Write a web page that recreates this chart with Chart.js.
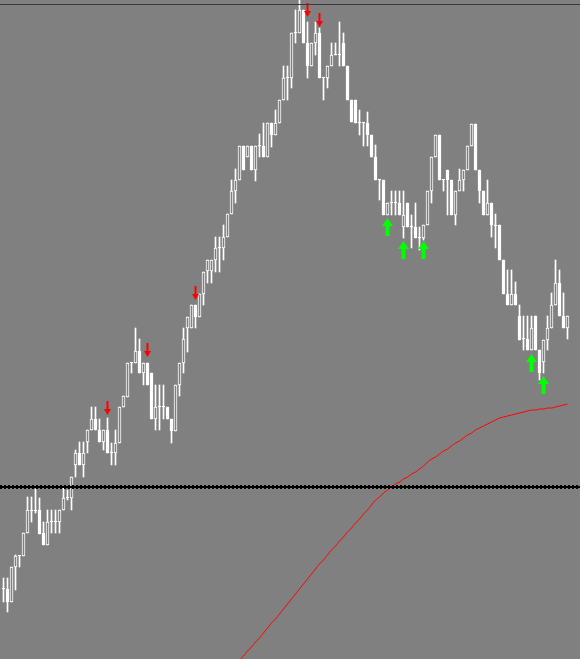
<!DOCTYPE html>
<html>
<head>
<meta charset="utf-8">
<script src="https://cdn.jsdelivr.net/npm/chart.js@4.4.1/dist/chart.umd.min.js"></script>
<style>
    html, body { margin: 0; padding: 0; background: #808080; overflow: hidden; }
    #wrap { width: 580px; height: 659px; }
</style>
</head>
<body>
<div id="wrap"><canvas id="myChart"></canvas></div>
<script>
var opens = [1.3031,1.3031,1.3018,1.3053,1.3064,1.3064,1.3087,1.3109,1.3109,1.3110,
    1.3087,1.3075,1.3098,1.3098,1.3098,1.3110,1.3122,1.3122,1.3155,1.3167,
    1.3155,1.3178,1.3190,1.3201,1.3190,1.3178,1.3190,1.3167,1.3167,1.3177,
    1.3213,1.3223,1.3257,1.3257,1.3269,1.3247,1.3257,1.3247,1.3201,1.3213,
    1.3213,1.3213,1.3201,1.3189,1.3235,1.3257,1.3292,1.3292,1.3315,1.3303,
    1.3326,1.3349,1.3349,1.3360,1.3372,1.3372,1.3383,1.3406,1.3429,1.3440,
    1.3474,1.3463,1.3474,1.3450,1.3474,1.3474,1.3463,1.3497,1.3485,1.3497,
    1.3520,1.3542,1.3542,1.3587,1.3587,1.3610,1.3577,1.3554,1.3577,1.3587,
    1.3542,1.3542,1.3554,1.3565,1.3565,1.3577,1.3554,1.3520,1.3520,1.3497,
    1.3497,1.3497,1.3485,1.3463,1.3440,1.3440,1.3405,1.3417,1.3417,1.3417,
    1.3393,1.3417,1.3393,1.3393,1.3382,1.3382,1.3395,1.3429,1.3463,1.3485,
    1.3440,1.3450,1.3440,1.3405,1.3429,1.3440,1.3450,1.3474,1.3496,1.3450,
    1.3429,1.3405,1.3417,1.3394,1.3395,1.3360,1.3326,1.3315,1.3326,1.3304,
    1.3281,1.3281,1.3270,1.3304,1.3270,1.3258,1.3280,1.3292,1.3315,1.3337,
    1.3304,1.3292];
var closes = [1.3031,1.3018,1.3053,1.3064,1.3064,1.3087,1.3110,1.3109,1.3109,1.3086,
    1.3075,1.3098,1.3098,1.3098,1.3110,1.3122,1.3122,1.3143,1.3167,1.3155,
    1.3167,1.3190,1.3201,1.3190,1.3178,1.3190,1.3167,1.3167,1.3177,1.3213,
    1.3224,1.3257,1.3257,1.3269,1.3247,1.3257,1.3235,1.3201,1.3213,1.3213,
    1.3213,1.3201,1.3189,1.3235,1.3257,1.3281,1.3303,1.3315,1.3303,1.3326,
    1.3348,1.3360,1.3360,1.3372,1.3372,1.3383,1.3406,1.3429,1.3440,1.3474,
    1.3450,1.3474,1.3450,1.3474,1.3474,1.3463,1.3497,1.3485,1.3497,1.3520,
    1.3542,1.3542,1.3587,1.3587,1.3610,1.3577,1.3554,1.3577,1.3587,1.3542,
    1.3542,1.3554,1.3565,1.3565,1.3565,1.3554,1.3520,1.3498,1.3497,1.3497,
    1.3497,1.3485,1.3463,1.3440,1.3440,1.3405,1.3417,1.3417,1.3417,1.3405,
    1.3405,1.3393,1.3393,1.3382,1.3382,1.3395,1.3429,1.3463,1.3485,1.3440,
    1.3440,1.3440,1.3405,1.3429,1.3440,1.3450,1.3474,1.3496,1.3450,1.3429,
    1.3405,1.3417,1.3395,1.3394,1.3360,1.3326,1.3315,1.3326,1.3315,1.3280,
    1.3281,1.3270,1.3292,1.3270,1.3247,1.3280,1.3292,1.3315,1.3337,1.3304,
    1.3292,1.3304];
var highs = [1.3042,1.3042,1.3053,1.3065,1.3064,1.3087,1.3123,1.3123,1.3131,1.3122,
    1.3098,1.3110,1.3110,1.3110,1.3110,1.3132,1.3130,1.3143,1.3170,1.3178,
    1.3178,1.3190,1.3213,1.3213,1.3201,1.3190,1.3202,1.3177,1.3190,1.3213,
    1.3224,1.3257,1.3257,1.3292,1.3281,1.3257,1.3257,1.3247,1.3235,1.3235,
    1.3235,1.3213,1.3201,1.3235,1.3257,1.3292,1.3303,1.3315,1.3315,1.3326,
    1.3348,1.3360,1.3360,1.3383,1.3383,1.3395,1.3406,1.3440,1.3451,1.3474,
    1.3474,1.3474,1.3474,1.3474,1.3486,1.3497,1.3497,1.3497,1.3510,1.3520,
    1.3554,1.3554,1.3587,1.3610,1.3622,1.3610,1.3598,1.3577,1.3598,1.3592,
    1.3542,1.3554,1.3577,1.3577,1.3598,1.3587,1.3554,1.3520,1.3520,1.3510,
    1.3497,1.3508,1.3485,1.3475,1.3440,1.3440,1.3417,1.3429,1.3429,1.3429,
    1.3429,1.3417,1.3405,1.3417,1.3393,1.3395,1.3429,1.3463,1.3485,1.3485,
    1.3440,1.3450,1.3440,1.3429,1.3451,1.3450,1.3474,1.3496,1.3496,1.3450,
    1.3429,1.3440,1.3417,1.3406,1.3395,1.3360,1.3350,1.3350,1.3338,1.3315,
    1.3304,1.3304,1.3304,1.3304,1.3270,1.3280,1.3304,1.3327,1.3360,1.3350,
    1.3327,1.3304];
var lows = [1.3018,1.3008,1.3018,1.3030,1.3053,1.3064,1.3087,1.3098,1.3107,1.3086,
    1.3075,1.3075,1.3087,1.3087,1.3087,1.3110,1.3120,1.3110,1.3143,1.3155,
    1.3143,1.3167,1.3190,1.3190,1.3178,1.3170,1.3167,1.3155,1.3155,1.3177,
    1.3213,1.3223,1.3247,1.3257,1.3247,1.3235,1.3235,1.3201,1.3190,1.3190,
    1.3201,1.3201,1.3177,1.3189,1.3224,1.3247,1.3268,1.3292,1.3292,1.3303,
    1.3315,1.3337,1.3337,1.3348,1.3348,1.3360,1.3383,1.3406,1.3417,1.3440,
    1.3450,1.3463,1.3450,1.3439,1.3463,1.3463,1.3463,1.3473,1.3485,1.3497,
    1.3520,1.3520,1.3532,1.3577,1.3587,1.3577,1.3542,1.3554,1.3565,1.3542,
    1.3520,1.3532,1.3554,1.3565,1.3554,1.3554,1.3520,1.3498,1.3497,1.3485,
    1.3474,1.3474,1.3463,1.3440,1.3420,1.3405,1.3405,1.3405,1.3405,1.3405,
    1.3382,1.3393,1.3372,1.3382,1.3370,1.3380,1.3395,1.3417,1.3463,1.3440,
    1.3429,1.3405,1.3405,1.3395,1.3429,1.3429,1.3450,1.3474,1.3450,1.3417,
    1.3405,1.3405,1.3383,1.3372,1.3360,1.3326,1.3315,1.3315,1.3315,1.3280,
    1.3270,1.3270,1.3270,1.3270,1.3240,1.3247,1.3270,1.3292,1.3315,1.3304,
    1.3292,1.3281];

// moving average, visible from bar 58 on
var maStart = 58;
var maValues = [1.2955,1.2960,1.2964,1.2969,1.2973,1.2978,1.2982,1.2987,1.2992,1.2997,
    1.3001,1.3006,1.3011,1.3016,1.3021,1.3026,1.3031,1.3036,1.3041,1.3046,
    1.3051,1.3056,1.3060,1.3065,1.3070,1.3074,1.3079,1.3083,1.3088,1.3092,
    1.3097,1.3101,1.3106,1.3110,1.3115,1.3120,1.3123,1.3127,1.3130,1.3133,
    1.3136,1.3138,1.3141,1.3143,1.3146,1.3148,1.3151,1.3154,1.3158,1.3161,
    1.3163,1.3166,1.3169,1.3171,1.3174,1.3177,1.3179,1.3182,1.3185,1.3187,
    1.3190,1.3192,1.3194,1.3196,1.3198,1.3200,1.3202,1.3203,1.3204,1.3205,
    1.3206,1.3207,1.3208,1.3209,1.3210,1.3210,1.3211,1.3211,1.3212,1.3212,
    1.3213,1.3214,1.3215,1.3216];

var sellBars = [26, 36, 48, 76, 79];
var sellLevels = [1.3212, 1.3270, 1.3327, 1.3610, 1.3600];
var buyBars = [96, 100, 105, 132, 135];
var buyLevels = [1.3393, 1.3370, 1.3370, 1.3257, 1.3235];

var dottedLevel = 1.3134;
var topLevel = 1.3616;
var priceMin = 1.2961;
var priceMax = 1.3620;

function arrowImage(color, w, h, headH, shaftW, up) {
    var c = document.createElement('canvas');
    c.width = w;
    c.height = h;
    var g = c.getContext('2d');
    g.fillStyle = color;
    var sx = (w - shaftW) / 2;
    g.beginPath();
    if (up) {
        g.moveTo(w / 2, 0);
        g.lineTo(w, headH);
        g.lineTo(0, headH);
        g.closePath();
        g.fill();
        g.fillRect(sx, headH - 1, shaftW, h - headH + 1);
    } else {
        g.fillRect(sx, 0, shaftW, h - headH + 1);
        g.moveTo(0, h - headH);
        g.lineTo(w, h - headH);
        g.lineTo(w / 2, h);
        g.closePath();
        g.fill();
    }
    return c;
}

const levelLines = {
    id: 'levelLines',
    afterDatasetsDraw: function(chart) {
        const ctx = chart.ctx;
        const a = chart.chartArea;
        const ys = chart.scales.y;
        ctx.save();
        var ty = Math.round(ys.getPixelForValue(topLevel)) + 0.5;
        ctx.strokeStyle = '#3a3a3a';
        ctx.lineWidth = 1;
        ctx.beginPath();
        ctx.moveTo(a.left, ty);
        ctx.lineTo(a.right, ty);
        ctx.stroke();

        var dy = Math.round(ys.getPixelForValue(dottedLevel)) + 1;
        ctx.strokeStyle = '#000000';
        ctx.lineWidth = 2;
        ctx.beginPath();
        ctx.moveTo(a.left, dy);
        ctx.lineTo(a.right, dy);
        ctx.stroke();
        ctx.lineWidth = 4;
        ctx.setLineDash([2, 2]);
        ctx.beginPath();
        ctx.moveTo(a.left, dy);
        ctx.lineTo(a.right, dy);
        ctx.stroke();
        ctx.restore();
    }
};

function grafico() {
    var bodies = [], wicks = [], bodyColors = [];
    for (var i = 0; i < opens.length; i++) {
        bodies.push({ x: i, y: [opens[i], closes[i]] });
        wicks.push({ x: i, y: [lows[i], highs[i]] });
        bodyColors.push(closes[i] > opens[i] ? '#808080' : '#ffffff');
    }
    var ma = [];
    for (var k = 0; k < maValues.length; k++) {
        ma.push({ x: maStart + k, y: maValues[k] });
    }
    var sells = [], buys = [];
    for (var s = 0; s < sellBars.length; s++) sells.push({ x: sellBars[s], y: sellLevels[s] });
    for (var b = 0; b < buyBars.length; b++) buys.push({ x: buyBars[b], y: buyLevels[b] });

    const ctx = document.getElementById('myChart').getContext('2d');
    const myChart = new Chart(ctx, {
        type: 'bar',
        data: {
            datasets: [{
                type: 'line',
                data: sells,
                showLine: false,
                pointStyle: arrowImage('#ff0000', 7, 14, 6, 2, false),
                order: 0
            }, {
                type: 'line',
                data: buys,
                showLine: false,
                pointStyle: arrowImage('#00ff00', 11, 18, 8, 4, true),
                order: 0
            }, {
                type: 'line',
                data: ma,
                borderColor: '#ff0000',
                borderWidth: 1,
                pointRadius: 0,
                cubicInterpolationMode: 'monotone',
                order: 1
            }, {
                data: bodies,
                backgroundColor: bodyColors,
                borderColor: '#ffffff',
                borderWidth: 1,
                borderSkipped: false,
                barThickness: 3,
                minBarLength: 1,
                grouped: false,
                order: 2
            }, {
                data: wicks,
                backgroundColor: '#ffffff',
                borderWidth: 0,
                barThickness: 1,
                grouped: false,
                order: 3
            }]
        },
        options: {
            responsive: true,
            maintainAspectRatio: false,
            animation: false,
            layout: { padding: 0, autoPadding: false },
            events: [],
            scales: {
                x: { type: 'linear', display: false, offset: false, min: -0.875, max: 144.125 },
                y: { type: 'linear', display: false, min: priceMin, max: priceMax }
            },
            plugins: {
                legend: { display: false },
                tooltip: { enabled: false }
            }
        },
        plugins: [levelLines]
    });
}

grafico();
</script>
</body>
</html>
